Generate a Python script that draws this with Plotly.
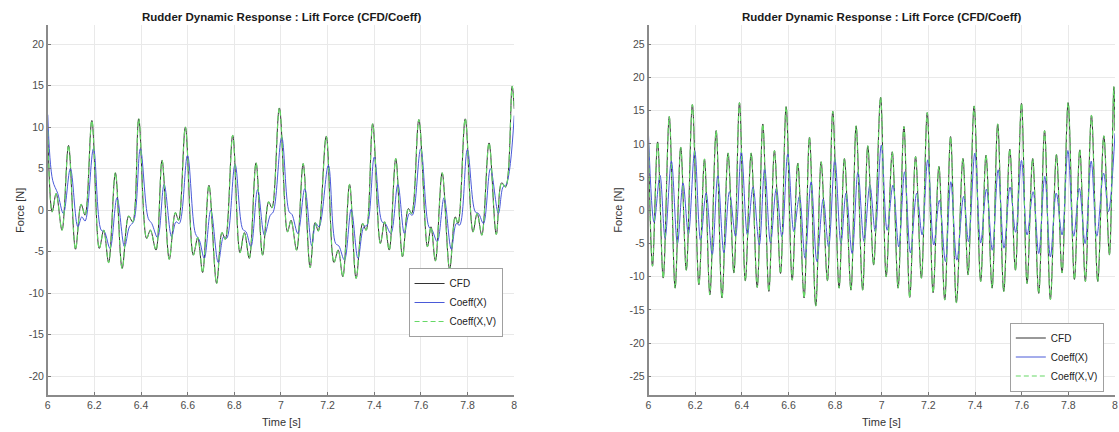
import plotly.graph_objects as go

# ---------------- Left panel data (time [s], force [N]) ----------------
left_t_xv = [6.000, 6.019, 6.036, 6.061, 6.089, 6.119, 6.143, 6.160, 6.189, 6.221, 6.240, 6.261,
             6.290, 6.319, 6.347, 6.364, 6.390, 6.424, 6.440, 6.464, 6.490, 6.521, 6.547, 6.561,
             6.590, 6.624, 6.643, 6.664, 6.691, 6.724, 6.747, 6.761, 6.793, 6.824, 6.843, 6.864,
             6.893, 6.921, 6.947, 6.961, 6.993, 7.028, 7.043, 7.067, 7.095, 7.125, 7.146, 7.160,
             7.194, 7.227, 7.245, 7.265, 7.294, 7.322, 7.350, 7.365, 7.393, 7.426, 7.444, 7.464,
             7.492, 7.521, 7.546, 7.560, 7.591, 7.628, 7.643, 7.662, 7.691, 7.723, 7.747, 7.759,
             7.790, 7.823, 7.841, 7.861, 7.892, 7.923, 7.946, 7.963, 7.991, 8.000]
left_xv = [9.5, -0.2, 2.0, -2.4, 7.8, -4.7, 0.7, -0.6, 10.8, -4.6, -2.4, -6.3,
           4.5, -7.0, -0.7, -1.4, 11.0, -3.4, -2.4, -4.8, 6.0, -5.9, -0.3, -1.2,
           10.0, -5.4, -3.3, -7.5, 3.0, -8.8, -2.7, -3.5, 9.0, -5.1, -2.7, -5.8,
           5.7, -5.4, 1.0, 0.3, 12.3, -2.6, -1.2, -4.8, 5.6, -6.9, -1.5, -2.5,
           8.9, -6.3, -4.8, -8.0, 3.1, -8.2, -1.6, -2.4, 10.4, -4.0, -1.4, -4.8,
           6.2, -5.6, 0.2, -0.4, 10.9, -4.4, -2.0, -6.1, 4.5, -7.1, -0.8, -1.6,
           11.0, -2.6, -0.4, -3.0, 8.1, -2.9, 3.3, 2.8, 14.9, 12.2]
left_cfd = list(left_xv)  # CFD trace coincides with Coeff(X,V) at this resolution

left_t_x = [6.000, 6.021, 6.043, 6.067, 6.097, 6.129, 6.146, 6.160, 6.196, 6.229, 6.243, 6.267,
            6.297, 6.329, 6.350, 6.369, 6.397, 6.431, 6.446, 6.471, 6.499, 6.531, 6.550, 6.564,
            6.599, 6.633, 6.650, 6.671, 6.699, 6.731, 6.754, 6.767, 6.803, 6.836, 6.850, 6.871,
            6.900, 6.929, 6.954, 6.967, 7.003, 7.035, 7.047, 7.072, 7.102, 7.132, 7.149, 7.163,
            7.203, 7.234, 7.248, 7.272, 7.301, 7.330, 7.355, 7.369, 7.400, 7.433, 7.447, 7.471,
            7.501, 7.529, 7.550, 7.563, 7.599, 7.634, 7.648, 7.670, 7.699, 7.730, 7.752, 7.766,
            7.799, 7.833, 7.847, 7.868, 7.898, 7.932, 7.952, 7.966, 8.000]
left_x = [11.5, 3.6, 2.0, -0.4, 5.0, -2.0, -0.8, -1.3, 7.4, -2.4, -2.6, -4.6,
          1.5, -4.4, -2.0, -1.3, 7.4, -1.0, -1.6, -3.3, 3.1, -3.2, -1.4, -1.6,
          6.6, -2.8, -3.6, -5.8, 0.0, -6.3, -3.2, -3.4, 5.5, -2.3, -2.6, -4.4,
          2.5, -3.0, -0.6, -0.2, 8.8, -0.2, -0.5, -2.8, 2.6, -4.3, -1.6, -2.0,
          5.4, -4.0, -4.3, -6.0, 0.1, -5.8, -2.0, -1.8, 6.4, -1.4, -1.6, -2.8,
          3.1, -2.8, -0.4, -0.6, 7.4, -2.0, -2.4, -3.8, 1.5, -4.7, -1.6, -1.8,
          7.3, -0.2, -0.4, -1.6, 5.0, -0.4, 2.8, 3.1, 11.4]

# ---------------- Right panel data ----------------
right_t_xv = [6.000, 6.017, 6.039, 6.063, 6.089, 6.114, 6.138, 6.162, 6.188, 6.216, 6.240, 6.263,
              6.290, 6.315, 6.341, 6.366, 6.390, 6.415, 6.440, 6.466, 6.490, 6.516, 6.540, 6.566,
              6.590, 6.616, 6.640, 6.667, 6.690, 6.717, 6.740, 6.767, 6.790, 6.817, 6.840, 6.868,
              6.890, 6.918, 6.940, 6.965, 6.995, 7.019, 7.045, 7.070, 7.095, 7.120, 7.145, 7.170,
              7.195, 7.220, 7.245, 7.270, 7.295, 7.320, 7.348, 7.370, 7.396, 7.424, 7.447, 7.473,
              7.497, 7.523, 7.549, 7.573, 7.599, 7.623, 7.647, 7.673, 7.698, 7.723, 7.749, 7.773,
              7.799, 7.826, 7.849, 7.873, 7.899, 7.926, 7.952, 7.976, 7.995, 8.000]
right_xv = [10.0, -8.4, 10.3, -10.2, 14.1, -11.7, 9.5, -9.0, 15.9, -11.2, 7.7, -12.7,
            12.0, -13.2, 8.6, -9.4, 16.2, -10.6, 8.6, -11.6, 13.0, -12.2, 9.0, -9.5,
            15.6, -10.5, 7.1, -13.2, 11.0, -14.4, 7.3, -10.6, 14.9, -11.7, 7.8, -12.0,
            12.7, -12.0, 9.7, -8.2, 17.0, -10.0, 8.8, -11.7, 12.6, -13.1, 8.1, -10.2,
            14.7, -12.4, 6.6, -13.5, 11.1, -13.9, 7.8, -9.7, 15.7, -10.7, 8.3, -11.7,
            13.0, -12.2, 9.2, -9.0, 16.1, -11.0, 7.8, -12.5, 12.0, -13.4, 8.4, -9.4,
            16.2, -10.4, 9.1, -10.7, 14.3, -10.7, 11.2, -6.7, 18.6, 12.0]
right_cfd = list(right_xv)  # CFD trace coincides with Coeff(X,V) at this resolution

right_t_x = [6.000, 6.024, 6.049, 6.071, 6.098, 6.124, 6.148, 6.171, 6.198, 6.223, 6.247, 6.273,
             6.297, 6.323, 6.347, 6.373, 6.398, 6.424, 6.448, 6.475, 6.498, 6.523, 6.548, 6.572,
             6.597, 6.623, 6.647, 6.671, 6.697, 6.722, 6.749, 6.772, 6.799, 6.825, 6.847, 6.873,
             6.898, 6.924, 6.949, 6.972, 6.998, 7.023, 7.048, 7.073, 7.098, 7.123, 7.150, 7.173,
             7.197, 7.223, 7.247, 7.273, 7.296, 7.322, 7.351, 7.372, 7.399, 7.424, 7.449, 7.474,
             7.499, 7.524, 7.550, 7.574, 7.599, 7.623, 7.649, 7.673, 7.699, 7.723, 7.748, 7.773,
             7.798, 7.823, 7.847, 7.872, 7.898, 7.922, 7.951, 7.972, 8.000]
right_x = [11.3, -1.8, 5.3, -4.2, 7.4, -5.0, 4.1, -3.6, 9.0, -4.5, 2.6, -6.7,
           5.2, -6.4, 2.8, -3.9, 8.8, -3.7, 3.5, -5.2, 6.3, -4.9, 3.3, -4.0,
           8.5, -3.2, 2.1, -7.2, 4.3, -7.7, 1.7, -5.5, 7.7, -5.0, 2.6, -6.5,
           5.8, -4.7, 3.8, -3.2, 9.8, -3.0, 3.8, -5.5, 5.8, -6.4, 2.6, -3.7,
           7.6, -5.2, 1.5, -7.7, 4.3, -7.5, 2.1, -4.7, 8.6, -4.9, 3.2, -6.0,
           6.1, -5.7, 3.5, -3.3, 7.5, -3.7, 2.8, -6.5, 5.1, -7.0, 2.6, -3.7,
           9.0, -3.9, 3.3, -5.0, 7.4, -3.9, 5.6, -0.2, 11.6]

# ---------------- Axis ticks / labels ----------------
x_ticks = [6, 6.2, 6.4, 6.6, 6.8, 7, 7.2, 7.4, 7.6, 7.8, 8]
x_ticktext = ["6", "6.2", "6.4", "6.6", "6.8", "7", "7.2", "7.4", "7.6", "7.8", "8"]
left_y_ticks = [-20, -15, -10, -5, 0, 5, 10, 15, 20]
right_y_ticks = [-25, -20, -15, -10, -5, 0, 5, 10, 15, 20, 25]
series_names = ["CFD", "Coeff(X)", "Coeff(X,V)"]
title_text = "Rudder Dynamic Response : Lift Force (CFD/Coeff)"

W, H = 1119, 432
FONT = "Liberation Sans, Arial, Helvetica, sans-serif"
C_CFD = "#333333"
C_X = "#4a5ad8"
C_XV = "#66d866"

fig = go.Figure()


def add_panel(tc, cfd, tx, xs, txv, xv, xa, ya, legend):
    common = dict(mode="lines", xaxis=xa, yaxis=ya, legend=legend)
    fig.add_trace(go.Scatter(x=tc, y=cfd, name=series_names[0],
                             line=dict(color=C_CFD, width=1, shape="spline", smoothing=1.0), **common))
    fig.add_trace(go.Scatter(x=tx, y=xs, name=series_names[1],
                             line=dict(color=C_X, width=1, shape="spline", smoothing=1.0), **common))
    fig.add_trace(go.Scatter(x=txv, y=xv, name=series_names[2],
                             line=dict(color=C_XV, width=1.2, dash="5px,3px", shape="spline", smoothing=1.0), **common))


add_panel(left_t_xv, left_cfd, left_t_x, left_x, left_t_xv, left_xv, "x", "y", "legend")
add_panel(right_t_xv, right_cfd, right_t_x, right_x, right_t_xv, right_xv, "x2", "y2", "legend2")

ydom = [1 - 395 / H, 1 - 25 / H]
axis_common = dict(showgrid=True, gridcolor="#e9e9e9", gridwidth=1, zeroline=False,
                   showline=True, linecolor="#8a8a8a", linewidth=1.5, mirror=False,
                   ticks="inside", ticklen=3, tickcolor="#777777",
                   tickfont=dict(family=FONT, size=10.5, color="#4d4d4d"))

legend_common = dict(bgcolor="white", bordercolor="#a0a0a0", borderwidth=1,
                     font=dict(family=FONT, size=10, color="#222222"), itemwidth=30,
                     tracegroupgap=0, xanchor="center", yanchor="middle")

fig.update_layout(
    width=W, height=H,
    margin=dict(l=0, r=0, t=0, b=0),
    paper_bgcolor="white", plot_bgcolor="white",
    font=dict(family=FONT, color="#333333"),
    xaxis=dict(domain=[45 / W, 514 / W], range=[6, 8], tickvals=x_ticks, ticktext=x_ticktext,
               anchor="y", **axis_common),
    yaxis=dict(domain=ydom, range=[-22.25, 22.3], tickvals=left_y_ticks,
               ticktext=[str(v) for v in left_y_ticks], anchor="x", **axis_common),
    xaxis2=dict(domain=[649 / W, 1118 / W], range=[6, 8], tickvals=x_ticks, ticktext=x_ticktext,
                anchor="y2", **axis_common),
    yaxis2=dict(domain=ydom, range=[-27.8, 27.9], tickvals=right_y_ticks,
                ticktext=[str(v) for v in right_y_ticks], anchor="x2", **axis_common),
    legend=dict(x=455 / W, y=1 - 302.5 / H, **legend_common),
    legend2=dict(x=1059.5 / W, y=1 - 357 / H, **legend_common),
    showlegend=True,
)

# Titles and axis labels
for cx in [(45 + 514) / 2 / W, (649 + 1118) / 2 / W]:
    fig.add_annotation(x=cx, y=1 - 17 / H, xref="paper", yref="paper", showarrow=False,
                       text="<b>" + title_text + "</b>", xanchor="center", yanchor="middle",
                       font=dict(family=FONT, size=11.5, color="#1a1a1a"))
    fig.add_annotation(x=cx, y=1 - 422 / H, xref="paper", yref="paper", showarrow=False,
                       text="Time [s]", xanchor="center", yanchor="middle",
                       font=dict(family=FONT, size=11, color="#333333"))
for ax in [17 / W, 618 / W]:
    fig.add_annotation(x=ax, y=1 - 210 / H, xref="paper", yref="paper", showarrow=False,
                       text="Force [N]", textangle=-90, xanchor="center", yanchor="middle",
                       font=dict(family=FONT, size=11, color="#333333"))

fig.write_html("out.html")
